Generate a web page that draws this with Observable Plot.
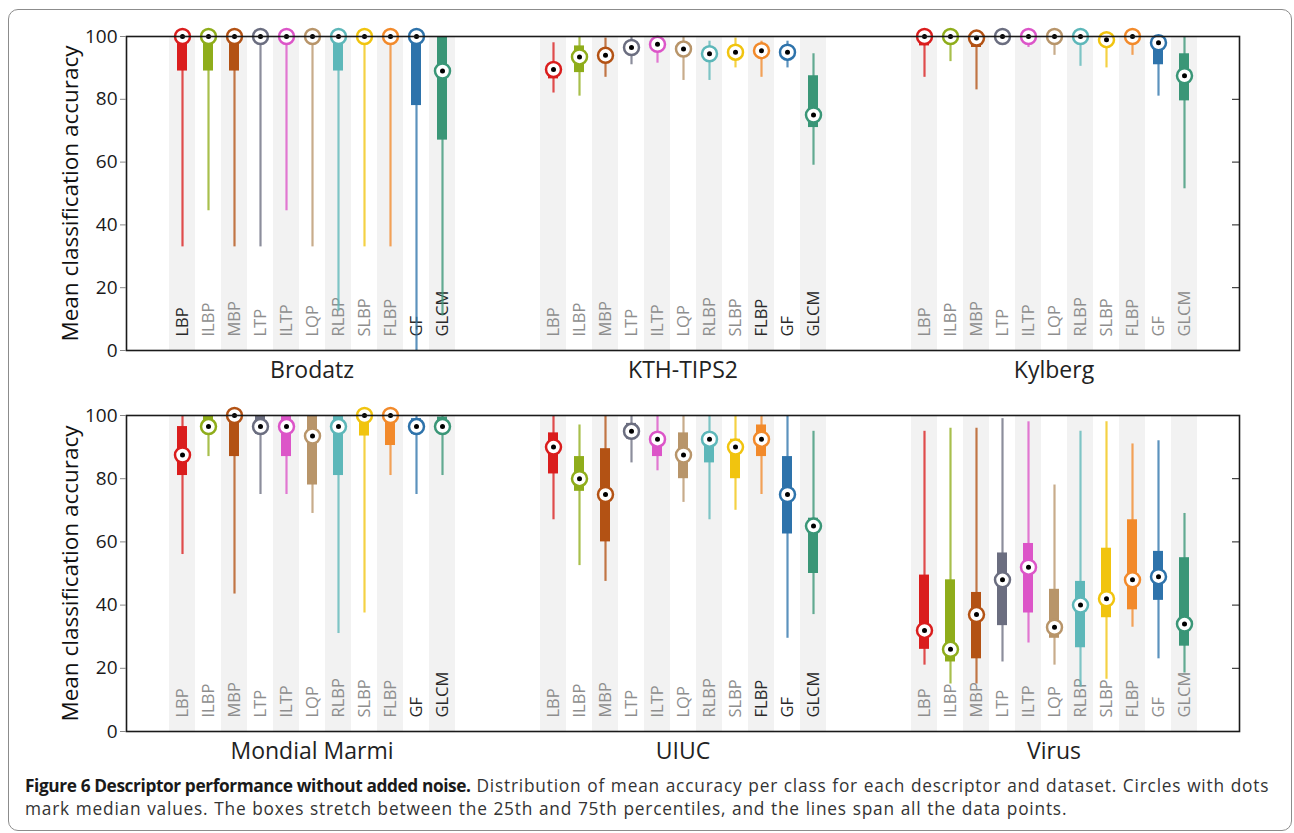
<!DOCTYPE html>
<html><head><meta charset="utf-8">
<script src="https://cdn.jsdelivr.net/npm/d3@7"></script>
<script src="https://cdn.jsdelivr.net/npm/@observablehq/plot@0.6"></script>
<style>
body{margin:0;background:#fff;font-family:"Open Sans",sans-serif;}
#fig{position:relative;width:1294px;height:833px;overflow:hidden;}
#border{position:absolute;left:8px;top:9px;width:1284px;height:822px;border:1px solid #8c8c8c;border-radius:10px;box-sizing:border-box}
#row1{position:absolute;left:0;top:0}
#row2{position:absolute;left:0;top:380px}
#cap{position:absolute;left:25px;top:774px;font-size:17.3px;letter-spacing:0.8px;word-spacing:0.5px;line-height:23px;color:#333;white-space:nowrap}
#cap b{color:#1a1a1a;letter-spacing:-0.4px;word-spacing:0}
svg{overflow:visible}
</style></head><body>
<div id="fig"><div id="border"></div><div id="row1"></div><div id="row2"></div>
<div id="cap"><b>Figure 6 Descriptor performance without added noise.</b> Distribution of mean accuracy per class for each descriptor and dataset. Circles with dots<br>mark median values. The boxes stretch between the 25th and 75th percentiles, and the lines span all the data points.</div>
</div>
<script>
const descriptors = ["LBP","ILBP","MBP","LTP","ILTP","LQP","RLBP","SLBP","FLBP","GF","GLCM"];
const colors = ["#da1d1d","#8fad1b","#b35214","#6b6e80","#dc55c8","#b8956a","#5db7b9","#f1c40f","#f28a2b","#2e73ab","#3a9677"];
const yTicks = [0,20,40,60,80,100];
const datasetsTop = ["Brodatz","KTH-TIPS2","Kylberg"];
const datasetsBottom = ["Mondial Marmi","UIUC","Virus"];

// per descriptor: [min, q1 (25th), median, q3 (75th), max]
const brodatz = [[33,89,100,100,100],[44.5,89,100,100,100],[33,89,100,100,100],[33,100,100,100,100],[44.5,100,100,100,100],[33,100,100,100,100],[12.5,89,100,100,100],[33,100,100,100,100],[33,100,100,100,100],[0,78,100,100,100],[11,67,89,100,100]];
const kthTips2 = [[82,86.5,89.5,90,98],[81,88.5,93.5,97,100],[87,92,94,96,99.5],[91,95,96.5,98,100],[91.5,96,97.5,99,100],[86,94,96,98,100],[86,92.5,94.5,96,98.5],[90,93.5,95,97,99.5],[87,94,95.5,97,98.5],[90,93,95,97,98.5],[59,71,75,87.5,94.5]];
const kylberg = [[87,97,100,100,100],[92,99,100,100,100],[83,96.5,99.5,100,100],[97.5,99.5,100,100,100],[96.5,99,100,100,100],[94,99.5,100,100,100],[90.5,99.5,100,100,100],[90,97.5,99,100,100],[94,99,100,100,100],[81,91,98,99,100],[51.5,79.5,87.5,94.5,100]];
const mondialMarmi = [[56,81,87.5,96.5,100],[87,94.5,96.5,100,100],[43.5,87,100,100,100],[75,94,96.5,100,100],[75,87,96.5,100,100],[69,78,93.5,100,100],[31,81,96.5,100,100],[37.5,93.5,100,100,100],[81,90.5,100,100,100],[75,94,96.5,99,100],[81,95,96.5,99.5,100]];
const uiuc = [[67,81.5,90,94.5,100],[52.5,76,80,87,97],[47.5,60,75,89.5,100],[85,92.5,95,97.5,100],[82.5,87,92.5,94.5,100],[72.5,80,87.5,94.5,100],[67,85,92.5,94.5,100],[70,80,90,92.5,100],[75,87,92.5,97,100],[29.5,62.5,75,87,100],[37,50,65,67.5,95]];
const virus = [[21,26,32,49.5,95],[15,22,26,48,96],[15,23,37,44,96],[22,33.5,48,56.5,99],[28,37.5,52,59.5,98],[21,29.5,33,45,78],[14,26.5,40,47.5,95],[16.5,36,42,58,98],[33,38.5,48,67,91],[23,41.5,49,57,92],[18.5,27,34,55,69]];

// descriptor labels drawn dark in each panel
const darkTop = [["LBP","GF","GLCM"],["FLBP","GF","GLCM"],[]];
const darkBottom = [["GF","GLCM"],["FLBP","GF","GLCM"],[]];

const shaded = descriptors.filter((d,i) => i % 2 === 0);

function records(datasets, tables) {
  const out = [];
  datasets.forEach((ds, j) => tables[j].forEach((v, i) => out.push({
    dataset: ds, desc: descriptors[i], min: v[0], q1: v[1], med: v[2], q3: v[3], max: v[4]
  })));
  return out;
}
function labelRecs(datasets, darks) {
  const out = [];
  datasets.forEach((ds, j) => descriptors.forEach(d => out.push({dataset: ds, desc: d, dark: darks[j].includes(d)})));
  return out;
}

function row(datasets, tables, darks, mt, mb) {
  const recs = records(datasets, tables);
  const labs = labelRecs(datasets, darks);
  return Plot.plot({
    width: 1294, height: 400,
    marginLeft: 126, marginRight: 55, marginTop: mt, marginBottom: mb,
    fx: {domain: datasets, padding: 0, axis: null},
    x: {domain: descriptors, paddingInner: 0, paddingOuter: 1.47, axis: null},
    y: {domain: [0, 100], axis: null},
    color: {domain: descriptors, range: colors},
    style: {fontFamily: "Open Sans, sans-serif", background: "transparent", overflow: "visible"},
    marks: [
      Plot.barY(shaded, {x: d => d, y1: 0, y2: 100, fill: "#f2f2f2"}),
      Plot.text(labs, {fx: "dataset", x: "desc", y: 0, text: "desc", rotate: -90, textAnchor: "start", dy: -14,
        fontSize: 16.5, fill: d => d.dark ? "#2a2a2a" : "#8e8e8e"}),
      Plot.ruleX(recs, {fx: "dataset", x: "desc", y1: "min", y2: "max", stroke: "desc", strokeWidth: 2.2, strokeOpacity: 0.78}),
      Plot.barY(recs, {fx: "dataset", x: "desc", y1: "q1", y2: "q3", fill: "desc", insetLeft: 8, insetRight: 8}),
      Plot.dot(recs, {fx: "dataset", x: "desc", y: "med", r: 7.5, fill: "white", stroke: "desc", strokeWidth: 2.5}),
      Plot.dot(recs, {fx: "dataset", x: "desc", y: "med", r: 2.5, fill: "black"}),
      Plot.frame({facet: "super", stroke: "#1a1a1a", strokeWidth: 1.6}),
      Plot.axisY({anchor: "left", ticks: yTicks, tickSize: 6, tickPadding: 3, fontSize: 19, color: "#1a1a1a", stroke: "#888", label: null}),
      Plot.axisY({anchor: "right", ticks: [20, 40, 60, 80], tickSize: 8, dx: -8, tickFormat: () => "", stroke: "#1a1a1a", label: null}),
      Plot.text([datasets[0]], {fx: d => d, text: () => "Mean classification accuracy", frameAnchor: "left", textAnchor: "middle", lineAnchor: "middle", rotate: -90, dx: -56, fontSize: 22.5, fill: "#111"}),
      Plot.text(datasets, {fx: d => d, text: d => d, frameAnchor: "bottom", lineAnchor: "middle", dy: 20, fontSize: 23, fill: "#222"})
    ]
  });
}

document.getElementById("row1").append(row(datasetsTop, [brodatz, kthTips2, kylberg], darkTop, 36, 50));
document.getElementById("row2").append(row(datasetsBottom, [mondialMarmi, uiuc, virus], darkBottom, 35, 49));
</script>
</body></html>
